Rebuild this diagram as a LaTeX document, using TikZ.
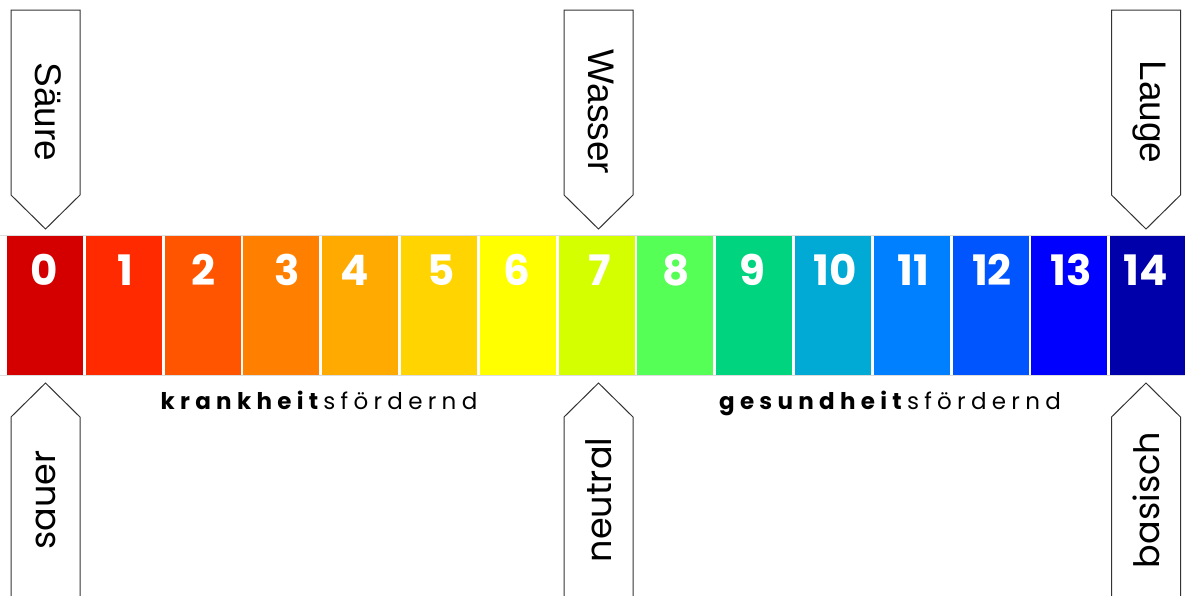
\documentclass[tikz,border=0pt]{standalone}
\usepackage{fontspec}
\setmainfont{Liberation Sans}
\newfontfamily\popfont{Poppins}
\newfontfamily\popspaced{Poppins}[LetterSpace=23]
\definecolor{c0}{HTML}{D40000}
\definecolor{c1}{HTML}{FF2A00}
\definecolor{c2}{HTML}{FF5500}
\definecolor{c3}{HTML}{FF8000}
\definecolor{c4}{HTML}{FFAA00}
\definecolor{c5}{HTML}{FFD400}
\definecolor{c6}{HTML}{FFFF00}
\definecolor{c7}{HTML}{D4FF00}
\definecolor{c8}{HTML}{55FF55}
\definecolor{c9}{HTML}{00D47F}
\definecolor{c10}{HTML}{00AAD4}
\definecolor{c11}{HTML}{0080FF}
\definecolor{c12}{HTML}{0055FF}
\definecolor{c13}{HTML}{0000FF}
\definecolor{c14}{HTML}{0000AA}
\definecolor{rule}{HTML}{DDDDDD}
\definecolor{edge}{HTML}{333333}
\begin{document}
\begin{tikzpicture}[x=1pt,y=-1pt,
  digit/.style={text=white,anchor=base,inner sep=0pt,font=\popfont\bfseries\fontsize{42}{42}\selectfont},
  toplabel/.style={rotate=-90,inner sep=0pt,font=\fontsize{37}{37}\selectfont},
  botlabel/.style={rotate=90,inner sep=0pt,font=\popfont\fontsize{35}{35}\selectfont},
  tag/.style={draw=edge,line width=1pt,fill=white,line join=miter},
  caption/.style={inner sep=0pt,anchor=base,font=\popspaced\fontsize{23}{23}\selectfont}]
\useasboundingbox (0,0) rectangle (1185,595);
\fill[white] (0,0) rectangle (1185,595);
% bar
\draw[rule,line width=0.8pt] (0,235) -- (1185,235);
\draw[rule,line width=0.8pt] (0,375.5) -- (1185,375.5);
\foreach \i in {0,...,14}{
  \fill[c\i] ({7+78.8*\i},236) rectangle ++(76,139);
}
\foreach \i/\x in {0/44,1/125,2/203,3/287,4/355,5/441,6/517,7/600,8/676,9/752,10/835,11/913,12/992,13/1071,14/1146}{
  \node[digit] (d\i) at (\x,285) {\i};
}
% top tags
\foreach \n/\c/\t in {saeure/45.5/Säure,wasser/598.5/Wasser,lauge/1146/Lauge}{
  \draw[tag] (\c-34.5,10) -- (\c+34.5,10) -- (\c+34.5,195) -- (\c,229) -- (\c-34.5,195) -- cycle;
  \node[toplabel] (\n) at (\c+3,112) {\t};
}
% bottom tags
\foreach \n/\c/\t in {sauer/45.5/sauer,neutral/598.5/neutral,basisch/1146/basisch}{
  \draw[tag] (\c-34.5,600) -- (\c-34.5,417) -- (\c,383) -- (\c+34.5,417) -- (\c+34.5,600);
  \node[botlabel] (\n) at (\c,500) {\t};
}
% captions
\node[caption] (krank) at (319,409) {\textbf{krankheit}sfördernd};
\node[caption] (gesund) at (890,409) {\textbf{gesundheit}sfördernd};
\end{tikzpicture}
\end{document}
